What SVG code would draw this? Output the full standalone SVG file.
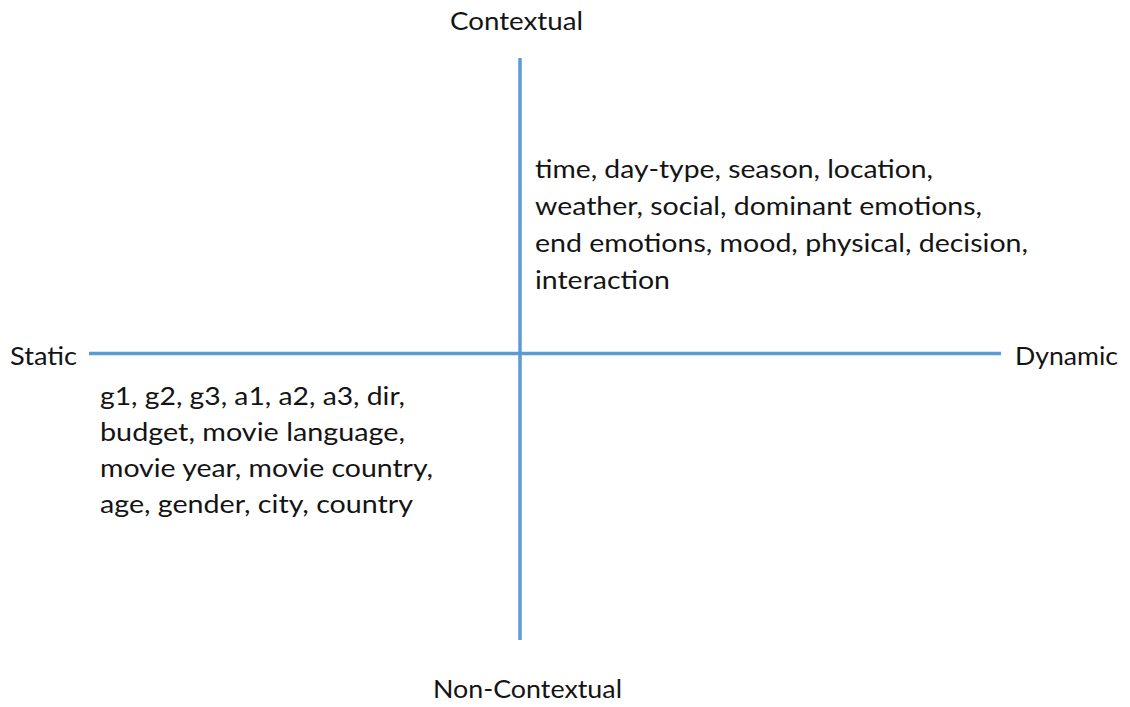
<svg xmlns="http://www.w3.org/2000/svg" width="1130" height="707" viewBox="0 0 1130 707">
  <style>
    text { font-family: Lato, "Open Sans", "Liberation Sans", sans-serif; font-size: 25px; fill: #141414; }
    .axis { stroke: #5b9bd5; stroke-width: 3.5; fill: none; }
  </style>
  <rect width="1130" height="707" fill="#ffffff"/>

  <!-- axes -->
  <g id="connectors">
    <line class="axis" x1="520" y1="58" x2="520" y2="640"/>
    <line class="axis" x1="89" y1="353.5" x2="1001" y2="353.5"/>
  </g>

  <!-- axis labels -->
  <g id="label-contextual">
    <text x="450" y="30" textLength="133" lengthAdjust="spacingAndGlyphs">Contextual</text>
  </g>
  <g id="label-non-contextual">
    <text x="433" y="698" textLength="189" lengthAdjust="spacingAndGlyphs">Non-Contextual</text>
  </g>
  <g id="label-static">
    <text x="10" y="365" textLength="67" lengthAdjust="spacingAndGlyphs">Static</text>
  </g>
  <g id="label-dynamic">
    <text x="1015" y="365" textLength="103" lengthAdjust="spacingAndGlyphs">Dynamic</text>
  </g>

  <!-- contextual, dynamic quadrant -->
  <g id="dynamic-contextual">
    <text x="535" y="178" textLength="398" lengthAdjust="spacingAndGlyphs">time, day-type, season, location,</text>
    <text x="535" y="215" textLength="447" lengthAdjust="spacingAndGlyphs">weather, social, dominant emotions,</text>
    <text x="535" y="252" textLength="493" lengthAdjust="spacingAndGlyphs">end emotions, mood, physical, decision,</text>
    <text x="535" y="289" textLength="135" lengthAdjust="spacingAndGlyphs">interaction</text>
  </g>

  <!-- static, non-contextual quadrant -->
  <g id="static-non-contextual">
    <text x="100" y="405" textLength="305" lengthAdjust="spacingAndGlyphs">g1, g2, g3, a1, a2, a3, dir,</text>
    <text x="100" y="441" textLength="305" lengthAdjust="spacingAndGlyphs">budget, movie language,</text>
    <text x="100" y="477" textLength="333" lengthAdjust="spacingAndGlyphs">movie year, movie country,</text>
    <text x="100" y="513" textLength="313" lengthAdjust="spacingAndGlyphs">age, gender, city, country</text>
  </g>
</svg>
